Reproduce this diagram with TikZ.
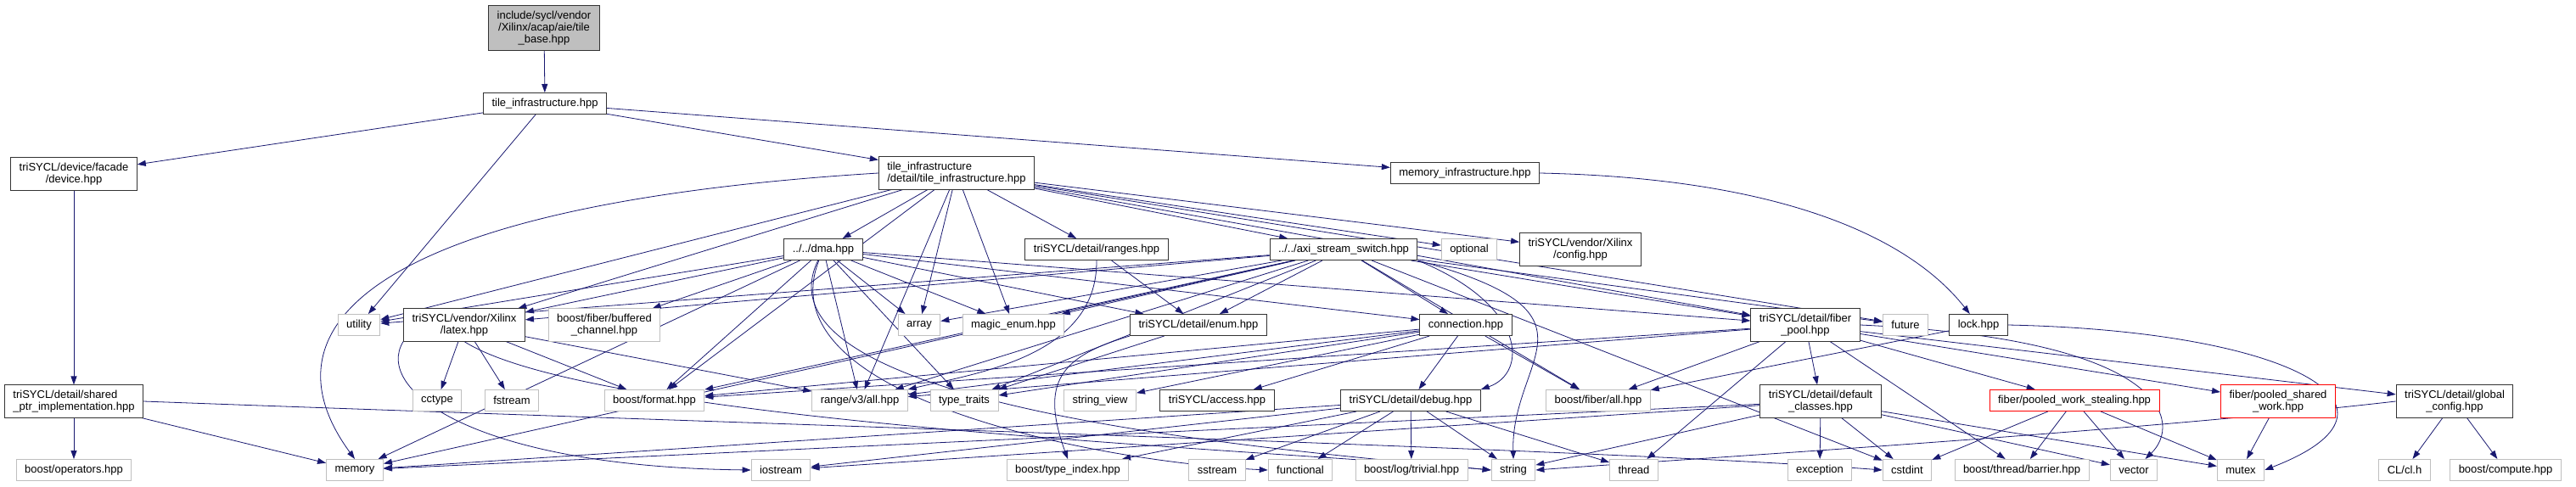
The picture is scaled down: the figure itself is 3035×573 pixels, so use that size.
\documentclass[tikz,border=0pt]{standalone}
\usepackage{fontspec}
\setmainfont{Liberation Sans}
\usetikzlibrary{arrows.meta}

\definecolor{edgeblue}{RGB}{25,25,112}
\definecolor{sysgray}{RGB}{191,191,191}

\pgfdeclarelayer{edges}
\pgfsetlayers{edges,main}

\tikzset{
  hdr/.style={draw=black!80, line width=1pt, fill=white, inner xsep=10pt, inner ysep=6pt,
    minimum height=25pt, font=\fontsize{13}{14}\selectfont, align=center},
  sys/.style={hdr, draw=sysgray},
  trunc/.style={hdr, draw=red},
  dep/.style={draw=edgeblue, line width=0.8pt, -{Triangle[length=10pt,width=7pt]}},
}

\begin{document}
\begin{tikzpicture}[x=1pt, y=-1pt]
  \useasboundingbox (0,0) rectangle (3035,573);

  %% Top of the graph
  \node[hdr, fill=sysgray] (root) at (641,33) {include/sycl/vendor\\/Xilinx/acap/aie/tile\\\_base.hpp};
  \node[hdr] (tinfra) at (642,122) {tile\_infrastructure.hpp};
  \node[hdr] (device) at (87,205) {triSYCL/device/facade\\/device.hpp};
  \node[hdr, align=left] (tdetail) at (1127,204) {tile\_infrastructure\\/detail/tile\_infrastructure.hpp};
  \node[hdr] (meminfra) at (1726,204) {memory\_infrastructure.hpp};

  %% Second row
  \node[hdr] (dma) at (970,294) {../../dma.hpp};
  \node[hdr] (ranges) at (1292,294) {triSYCL/detail/ranges.hpp};
  \node[hdr] (axi) at (1583,294) {../../axi\_stream\_switch.hpp};
  \node[sys] (optional) at (1731,294) {optional};
  \node[hdr] (xconfig) at (1862,294) {triSYCL/vendor/Xilinx\\/config.hpp};

  %% Third row
  \node[sys] (utility) at (423,383) {utility};
  \node[hdr] (latex) at (547,383) {triSYCL/vendor/Xilinx\\/latex.hpp};
  \node[sys] (bufchan) at (712,383) {boost/fiber/buffered\\\_channel.hpp};
  \node[sys] (array) at (1083,383) {array};
  \node[sys] (magicenum) at (1194,383) {magic\_enum.hpp};
  \node[hdr] (enum) at (1412,383) {triSYCL/detail/enum.hpp};
  \node[hdr] (connection) at (1727,383) {connection.hpp};
  \node[hdr] (fiberpool) at (2127,383) {triSYCL/detail/fiber\\\_pool.hpp};
  \node[sys] (future) at (2245,383) {future};
  \node[hdr] (lock) at (2331,383) {lock.hpp};

  %% Fourth row
  \node[hdr, align=left] (shptr) at (87,473) {triSYCL/detail/shared\\\_ptr\_implementation.hpp};
  \node[sys] (cctype) at (515,472) {cctype};
  \node[sys] (fstream) at (603,472) {fstream};
  \node[sys] (format) at (771,472) {boost/format.hpp};
  \node[sys] (rangeall) at (1013,472) {range/v3/all.hpp};
  \node[sys] (typetraits) at (1136,472) {type\_traits};
  \node[sys] (stringview) at (1296,472) {string\_view};
  \node[hdr] (access) at (1434,472) {triSYCL/access.hpp};
  \node[hdr] (debug) at (1662,472) {triSYCL/detail/debug.hpp};
  \node[sys] (fiberall) at (1883,472) {boost/fiber/all.hpp};
  \node[hdr] (defclasses) at (2145,473) {triSYCL/detail/default\\\_classes.hpp};
  \node[trunc] (stealing) at (2444,472) {fiber/pooled\_work\_stealing.hpp};
  \node[trunc] (sharedwork) at (2684,473) {fiber/pooled\_shared\\\_work.hpp};
  \node[hdr] (globalconf) at (2892,473) {triSYCL/detail/global\\\_config.hpp};

  %% Bottom row
  \node[sys] (operators) at (87,554) {boost/operators.hpp};
  \node[sys] (memory) at (418,554) {memory};
  \node[sys] (iostream) at (920,554) {iostream};
  \node[sys] (typeindex) at (1258,554) {boost/type\_index.hpp};
  \node[sys] (sstream) at (1434,554) {sstream};
  \node[sys] (functional) at (1532,554) {functional};
  \node[sys] (logtrivial) at (1663,554) {boost/log/trivial.hpp};
  \node[sys] (string) at (1783,554) {string};
  \node[sys] (thread) at (1925,554) {thread};
  \node[sys] (exception) at (2144,554) {exception};
  \node[sys] (cstdint) at (2247,554) {cstdint};
  \node[sys] (barrier) at (2382,554) {boost/thread/barrier.hpp};
  \node[sys] (vector) at (2514,554) {vector};
  \node[sys] (mutex) at (2640,554) {mutex};
  \node[sys] (clh) at (2833,554) {CL/cl.h};
  \node[sys] (compute) at (2952,554) {boost/compute.hpp};

  %% Include edges, kept under the boxes
  \begin{pgfonlayer}{edges}
  \draw[dep] (root) -- (tinfra);
  \foreach \t in {device,tdetail,meminfra,utility}
    \draw[dep] (tinfra) -- (\t);
  \draw[dep] (device) -- (shptr);
  \foreach \t in {operators,memory}
    \draw[dep] (shptr) -- (\t);
  \draw[dep] (shptr.east) .. controls (900,500) and (1900,530) .. (cstdint.west);
  \draw[dep] (meminfra.east) .. controls (2100,210) and (2250,280) .. (lock);

  % detail/tile_infrastructure.hpp
  \foreach \t in {dma,axi,ranges,array,magicenum,optional,xconfig,fiberpool,future,latex,format,rangeall,utility}
    \draw[dep] (tdetail) -- (\t);
  \draw[dep] (tdetail.west) .. controls (450,240) and (300,380) .. (memory.north);

  % dma.hpp
  \foreach \t in {latex,bufchan,format,rangeall,array,magicenum,enum,connection,fiberpool,utility,typetraits,memory}
    \draw[dep] (dma) -- (\t);
  \draw[dep] (dma) .. controls (880,480) and (1500,530) .. (string.west);
  \draw[dep] (dma) .. controls (900,470) and (1300,545) .. (functional.west);

  % ranges.hpp
  \draw[dep] (ranges.south) .. controls (1293,420) and (1150,440) .. (rangeall.north east);
  \draw[dep] (ranges) -- (enum);

  % axi_stream_switch.hpp
  \foreach \t in {array,magicenum,enum,connection,fiberpool,future,latex,rangeall,format,typetraits,utility,memory,cstdint,fiberall}
    \draw[dep] (axi) -- (\t);
  \draw[dep] (axi.south east) .. controls (1800,360) and (1800,440) .. (debug.north east);
  \draw[dep] (axi.south east) .. controls (1900,370) and (1780,420) .. (string.north);

  % latex.hpp
  \foreach \t in {cctype,fstream,format,rangeall}
    \draw[dep] (latex) -- (\t);
  \draw[dep] (latex.south west) .. controls (440,460) and (560,550) .. (iostream.west);
  \draw[dep] (latex.south) .. controls (700,500) and (1500,530) .. (string.west);

  % enum.hpp
  \draw[dep] (enum.south west) .. controls (1250,420) and (1225,450) .. (typeindex.north);
  \draw[dep] (enum) -- (typetraits);

  % connection.hpp
  \foreach \t in {debug,fiberall,rangeall,format,typetraits,stringview,access}
    \draw[dep] (connection) -- (\t);

  % debug.hpp
  \foreach \t in {memory,iostream,typeindex,sstream,functional,logtrivial,string,thread}
    \draw[dep] (debug) -- (\t);

  % fiber_pool.hpp
  \foreach \t in {fiberall,defclasses,stealing,sharedwork,globalconf,thread,barrier,format,rangeall}
    \draw[dep] (fiberpool) -- (\t);
  \draw[dep] (fiberpool.east) .. controls (2560,400) and (2570,500) .. (vector);

  % default_classes.hpp
  \foreach \t in {exception,cstdint,memory,iostream,vector,mutex,string}
    \draw[dep] (defclasses) -- (\t);

  % lock.hpp
  \draw[dep] (lock.east) .. controls (2700,390) and (2860,480) .. (mutex.east);
  \draw[dep] (lock) -- (fiberall);

  % pooled_work_stealing.hpp and pooled_shared_work.hpp
  \foreach \t in {cstdint,barrier,vector,mutex}
    \draw[dep] (stealing) -- (\t);
  \draw[dep] (sharedwork) -- (mutex);

  % global_config.hpp
  \foreach \t in {clh,compute}
    \draw[dep] (globalconf) -- (\t);
  \draw[dep] (globalconf.west) .. controls (2500,510) and (2000,540) .. (string.east);
  \end{pgfonlayer}
\end{tikzpicture}
\end{document}
